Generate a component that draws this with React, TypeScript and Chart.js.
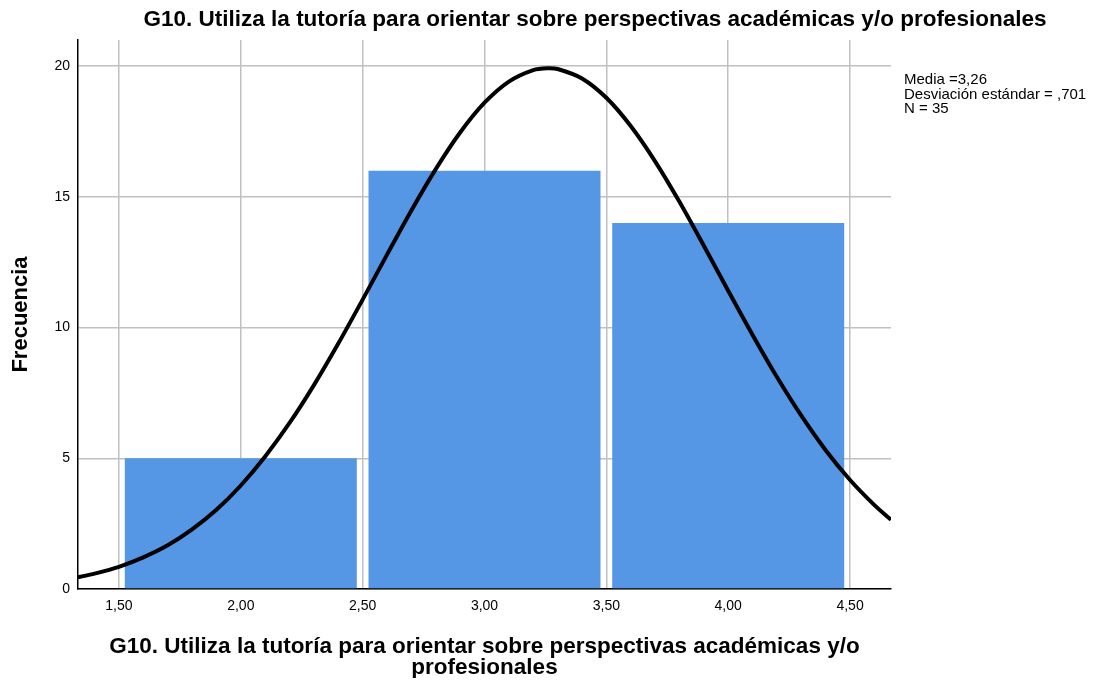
import React, { useEffect, useRef } from "react";
import { Chart, registerables } from "chart.js";

Chart.register(...registerables);

const titleText = "G10. Utiliza la tutoría para orientar sobre perspectivas académicas y/o profesionales";
const xAxisTitle = ["G10. Utiliza la tutoría para orientar sobre perspectivas académicas y/o", "profesionales"];
const yAxisTitle = "Frecuencia";
const statsLines = ["Media =3,26", "Desviación estándar = ,701", "N = 35"];

// Histogram bins (centres) and frequencies
const binCenters = [2.0, 3.0, 4.0];
const frequencies = [5, 16, 14];

// Normal curve
const curveX = [1.332, 1.4, 1.5, 1.6, 1.7, 1.8, 1.9, 2.0, 2.1, 2.2, 2.3, 2.4, 2.5, 2.6, 2.7, 2.8, 2.9, 3.0, 3.1, 3.2, 3.26, 3.3, 3.4, 3.5, 3.6, 3.7, 3.8, 3.9, 4.0, 4.1, 4.2, 4.3, 4.4, 4.5, 4.6, 4.668];
const curveY = [0.45, 0.59, 0.85, 1.21, 1.67, 2.28, 3.03, 3.96, 5.07, 6.35, 7.8, 9.39, 11.07, 12.79, 14.48, 16.06, 17.46, 18.6, 19.41, 19.85, 19.92, 19.89, 19.53, 18.79, 17.71, 16.36, 14.81, 13.13, 11.41, 9.72, 8.11, 6.63, 5.31, 4.17, 3.21, 2.65];

const xTicks = [1.5, 2.0, 2.5, 3.0, 3.5, 4.0, 4.5];
const yTicks = [0, 5, 10, 15, 20];
const xMin = 1.332;
const xMax = 4.668;
const yMax = 21;

const FONT = "'Liberation Sans', Arial, sans-serif";

export default function App() {
  const ref = useRef<HTMLCanvasElement | null>(null);
  useEffect(() => {
    if (!ref.current) return;
    const textPlugin = {
      id: "extraText",
      afterDraw(chart: any) {
        const ctx = chart.ctx;
        ctx.save();
        ctx.fillStyle = "#000";
        ctx.font = `bold 22.5px ${FONT}`;
        ctx.textAlign = "center";
        ctx.textBaseline = "middle";
        ctx.fillText(titleText, 587, 12);
        ctx.font = `15px ${FONT}`;
        ctx.textAlign = "left";
        ctx.textBaseline = "alphabetic";
        statsLines.forEach((t, i) => ctx.fillText(t, 896, 76 + i * 14.5));
        ctx.restore();
      },
    };
    const chart = new Chart(ref.current, {
      type: "bar",
      data: {
        datasets: [
          {
            type: "line",
            data: curveX.map((x, i) => ({ x, y: curveY[i] })),
            borderColor: "#000",
            borderWidth: 4,
            pointRadius: 0,
            tension: 0.3,
            order: 0,
          } as any,
          {
            type: "bar",
            data: binCenters.map((x, i) => ({ x, y: frequencies[i] })),
            backgroundColor: "#5596E5",
            borderWidth: 0,
            barPercentage: 1.904,
            categoryPercentage: 1,
            order: 1,
          } as any,
        ],
      },
      options: {
        animation: false,
        responsive: true,
        maintainAspectRatio: false,
        layout: { padding: { top: 32, right: 195, left: 0, bottom: 0 } },
        plugins: { legend: { display: false }, tooltip: { enabled: false }, title: { display: false } },
        scales: {
          x: {
            type: "linear",
            min: xMin,
            max: xMax,
            offset: false,
            afterBuildTicks: (s: any) => { s.ticks = xTicks.map((v) => ({ value: v })); },
            afterFit: (s: any) => { s.height = 89; },
            grid: { color: "#c0c0c0", lineWidth: 1.5, drawTicks: false, offset: false },
            border: { display: true, color: "#000", width: 1.5 },
            ticks: {
              padding: 9,
              color: "#000",
              font: { family: FONT, size: 14 },
              maxRotation: 0,
              callback: (v: any) => Number(v).toFixed(2).replace(".", ","),
            },
            title: {
              display: true,
              text: xAxisTitle,
              color: "#000",
              font: { family: FONT, size: 22.5, weight: "bold", lineHeight: "21px" },
              padding: { top: 0, bottom: 0 },
            },
          },
          y: {
            min: 0,
            max: yMax,
            afterBuildTicks: (s: any) => { s.ticks = yTicks.map((v) => ({ value: v })); },
            afterFit: (s: any) => { s.width = 70; },
            grid: { color: "#c0c0c0", lineWidth: 1.5, drawTicks: false },
            border: { display: true, color: "#000", width: 1.5 },
            ticks: { padding: 8, color: "#000", font: { family: FONT, size: 14 } },
            title: {
              display: true,
              text: yAxisTitle,
              color: "#000",
              font: { family: FONT, size: 22, weight: "bold", lineHeight: 1.2 },
              padding: { top: 0, bottom: 0 },
            },
          },
        },
      },
      plugins: [textPlugin],
    });
    return () => chart.destroy();
  }, []);
  return (
    <div style={{ width: 1078, height: 670, position: "relative" }}>
      <canvas ref={ref} style={{ display: "block" }} />
    </div>
  );
}
